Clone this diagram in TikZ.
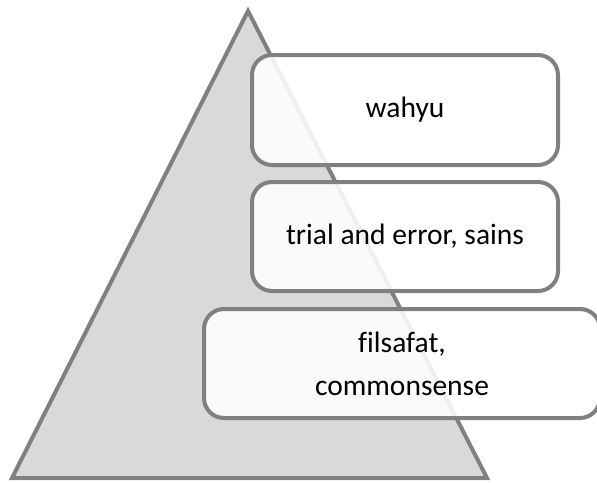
\documentclass[tikz,border=0pt]{standalone}
\usepackage{fontspec}
\setmainfont[Ligatures=NoCommon]{Carlito}
\begin{document}
\begin{tikzpicture}[x=1pt,y=-1pt,
  edge/.style={draw=black!50,line width=4pt},
  tier/.style={edge,rounded corners=20pt,fill=white,fill opacity=0.88,
    text opacity=1,inner sep=0pt,minimum width=306pt,minimum height=110pt,
    align=center,font=\fontsize{29.5}{43}\selectfont}
]
\useasboundingbox (0,0) rectangle (597,482);
% pyramid
\coordinate (apex) at (248,11);
\coordinate (bl) at (12,478);
\coordinate (br) at (487,478);
\draw[edge,fill=black!15,line join=miter] (apex) -- (bl) -- (br) -- cycle;
% tiers
\node[tier] (wahyu) at (405,110) {wahyu};
\node[tier,minimum height=109pt] (sains) at (405,236.5) {trial and error, sains};
\node[tier,minimum width=396pt,minimum height=109pt] (filsafat) at (402,363.5) {filsafat,\\commonsense};
\end{tikzpicture}
\end{document}
